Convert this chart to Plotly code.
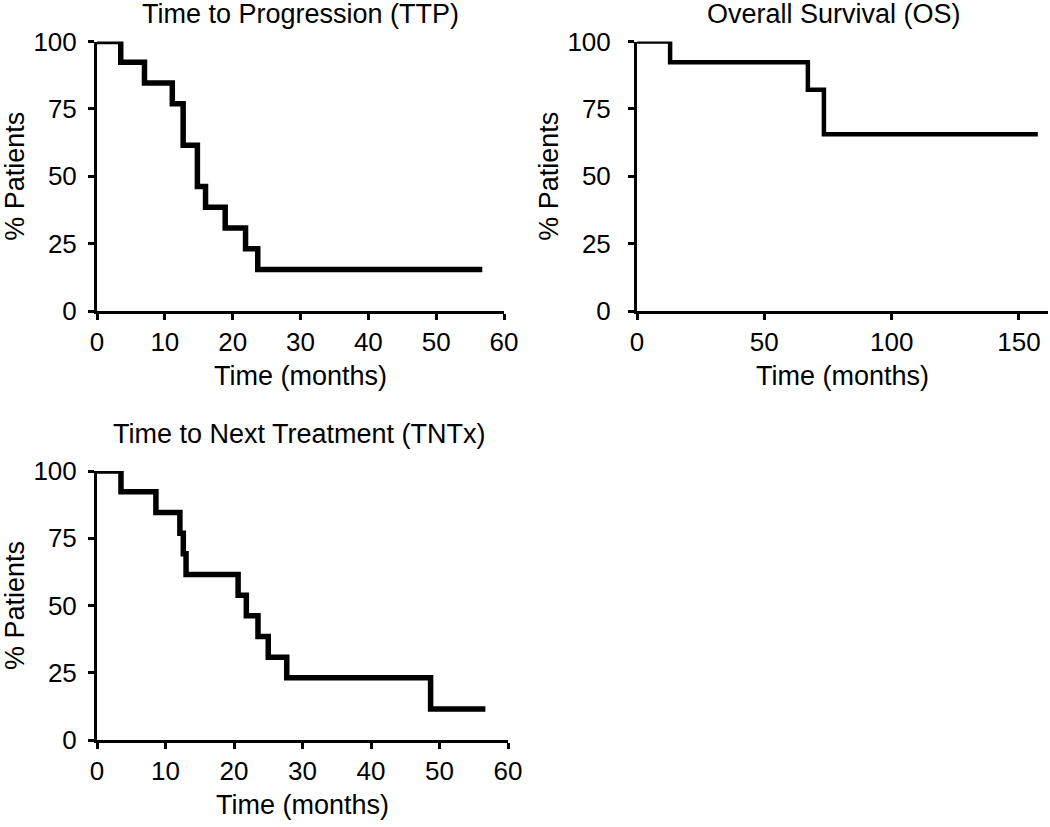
import plotly.graph_objects as go

# ---- data ----
ttp_time = [0, 3.5, 7.0, 11.1, 12.7, 14.8, 16.0, 18.9, 21.9, 23.7, 56.8]
ttp_pct = [100, 92.3, 84.6, 76.9, 61.5, 46.2, 38.5, 30.8, 23.1, 15.4, 15.4]

os_time = [0, 13.0, 67.1, 73.4, 157.4]
os_pct = [100, 92.3, 82.1, 65.6, 65.6]

tntx_time = [0, 3.5, 8.6, 12.1, 12.6, 13.0, 20.6, 21.8, 23.5, 25.0, 27.7, 48.7, 56.7]
tntx_pct = [100, 92.3, 84.6, 76.9, 69.2, 61.5, 53.8, 46.2, 38.5, 30.8, 23.1, 11.5, 11.5]

y_ticks = [0, 25, 50, 75, 100]
x_ticks_short = [0, 10, 20, 30, 40, 50, 60]
x_ticks_os = [0, 50, 100, 150]

titles = ["Time to Progression (TTP)", "Overall Survival (OS)", "Time to Next Treatment (TNTx)"]

W, H = 1050, 827
FONT = "Liberation Sans, Arial, Helvetica, sans-serif"
FS = 26
FS_T = 27


def px_x(a, b):
    return [a / W, b / W]


def px_y(top, bottom):
    return [(H - bottom) / H, (H - top) / H]


fig = go.Figure()
fig.add_trace(go.Scatter(x=ttp_time, y=ttp_pct, mode="lines", line=dict(shape="hv", color="black", width=5.5),
                         xaxis="x", yaxis="y", cliponaxis=False, showlegend=False))
fig.add_trace(go.Scatter(x=os_time, y=os_pct, mode="lines", line=dict(shape="hv", color="black", width=4.5),
                         xaxis="x2", yaxis="y2", cliponaxis=False, showlegend=False))
fig.add_trace(go.Scatter(x=tntx_time, y=tntx_pct, mode="lines", line=dict(shape="hv", color="black", width=5.5),
                         xaxis="x3", yaxis="y3", cliponaxis=False, showlegend=False))

axis_common = dict(showline=True, linecolor="black", linewidth=3, ticks="outside", ticklen=6,
                   tickwidth=3, tickcolor="black", showgrid=False, zeroline=False, automargin=False,
                   tickfont=dict(family=FONT, size=FS, color="black"), fixedrange=True)


def ttl(text, standoff):
    return dict(text=text, font=dict(family=FONT, size=FS_T, color="black"), standoff=standoff)


fig.update_layout(
    width=W, height=H,
    margin=dict(l=0, r=0, t=0, b=0, autoexpand=False),
    paper_bgcolor="white", plot_bgcolor="white",
    font=dict(family=FONT, size=FS, color="black"),
    xaxis=dict(domain=px_x(97, 504), range=[0, 60], tickvals=x_ticks_short, anchor="y",
               title=ttl("Time (months)", 10), **axis_common),
    yaxis=dict(domain=px_y(41.5, 311), range=[0, 100], tickvals=y_ticks, anchor="x",
               title=ttl("% Patients", 3), ticklabelstandoff=6, **axis_common),
    xaxis2=dict(domain=px_x(637, 1048), range=[0, 161.4], tickvals=x_ticks_os, anchor="y2",
                title=ttl("Time (months)", 10), **axis_common),
    yaxis2=dict(domain=px_y(41.5, 311), range=[0, 100], tickvals=y_ticks, anchor="x2",
                title=ttl("% Patients", 1), ticklabelstandoff=12, **axis_common),
    xaxis3=dict(domain=px_x(97, 508), range=[0, 60], tickvals=x_ticks_short, anchor="y3",
                title=ttl("Time (months)", 10), **axis_common),
    yaxis3=dict(domain=px_y(471, 740), range=[0, 100], tickvals=y_ticks, anchor="x3",
                title=ttl("% Patients", 3), ticklabelstandoff=6, **axis_common),
)

title_pos = [(300, 14), (834, 14), (299, 434)]
for t, (cx, cy) in zip(titles, title_pos):
    fig.add_annotation(text=t, x=cx / W, y=(H - cy) / H, xref="paper", yref="paper",
                       showarrow=False, xanchor="center", yanchor="middle",
                       font=dict(family=FONT, size=FS_T, color="black"))

# remove the default page margin so the figure fills the window exactly
fig.write_html("out.html", config={"displayModeBar": False},
               post_script="document.body.style.margin='0px';document.body.style.overflow='hidden';")
